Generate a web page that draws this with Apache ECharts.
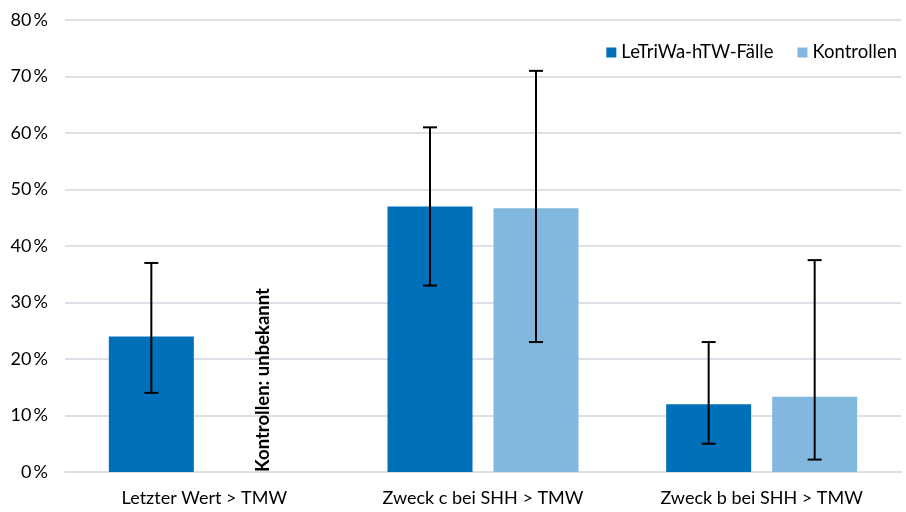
<!DOCTYPE html>
<html><head><meta charset="utf-8">
<script src="https://cdn.jsdelivr.net/npm/echarts@6/dist/echarts.min.js"></script>
<style>html,body{margin:0;padding:0;background:#fff}#c{width:906px;height:512px}</style>
</head><body><div id="c"></div>
<script>
var categories = ['Letzter Wert > TMW', 'Zweck c bei SHH > TMW', 'Zweck b bei SHH > TMW'];
var faelle = [24, 47, 12];
var faelleLow = [14, 33, 5];
var faelleHigh = [37, 61, 23];
var kontrollen = [0, 46.7, 13.3];
var kontrollenLow = [null, 23, 2.2];
var kontrollenHigh = [null, 71, 37.5];
var yTicks = [0, 10, 20, 30, 40, 50, 60, 70, 80];
var noteText = 'Kontrollen: unbekannt';

var FONT = 'Lato';
var BAR_W = 85;
var GAP_PX = 21;

function errData(low, high) {
  var out = [];
  for (var i = 0; i < categories.length; i++) {
    if (low[i] != null) out.push([i, low[i], high[i]]);
  }
  return out;
}
function errSeries(name, low, high, dir) {
  return {
    type: 'custom', name: name + '_err', z: 10, silent: true,
    data: errData(low, high),
    encode: { x: 0, y: [1, 2] },
    renderItem: function (params, api) {
      var off = dir * (BAR_W / 2 + GAP_PX / 2);
      var lo = api.coord([api.value(0), api.value(1)]);
      var hi = api.coord([api.value(0), api.value(2)]);
      var x = lo[0] + off;
      var cap = 7;
      var st = { stroke: '#000', lineWidth: 2 };
      return { type: 'group', children: [
        { type: 'line', shape: { x1: x, y1: lo[1], x2: x, y2: hi[1] }, style: st },
        { type: 'line', shape: { x1: x - cap, y1: lo[1], x2: x + cap, y2: lo[1] }, style: st },
        { type: 'line', shape: { x1: x - cap, y1: hi[1], x2: x + cap, y2: hi[1] }, style: st }
      ]};
    }
  };
}

var kData = kontrollen.map(function (v, i) {
  if (kontrollenLow[i] == null) {
    return { value: v, label: { show: true, formatter: noteText, position: 'top', rotate: 90,
      align: 'left', verticalAlign: 'middle', distance: 2, offset: [-2, 6], fontFamily: FONT, fontWeight: 'bold',
      fontSize: 18.5, color: '#000' } };
  }
  return v;
});

var chart = echarts.init(document.getElementById('c'));
chart.setOption({
  animation: false,
  textStyle: { fontFamily: FONT },
  grid: { left: 65, right: 5, top: 20, bottom: 40, containLabel: false },
  legend: {
    data: ['LeTriWa-hTW-Fälle', 'Kontrollen'], right: 4, top: 38,
    itemWidth: 10, itemHeight: 10, itemGap: 24, icon: 'rect',
    textStyle: { fontFamily: FONT, fontSize: 18.5, color: '#000' }
  },
  xAxis: {
    type: 'category', data: categories,
    axisLine: { show: true, lineStyle: { color: '#dde1e7', width: 2 } },
    axisTick: { show: false },
    axisLabel: { fontFamily: FONT, fontSize: 18, color: '#000', margin: 17 }
  },
  yAxis: {
    type: 'value', min: yTicks[0], max: yTicks[yTicks.length - 1], interval: 10,
    axisLine: { show: false }, axisTick: { show: false },
    splitLine: { lineStyle: { color: '#dde1e7', width: 2 } },
    axisLabel: { fontFamily: FONT, fontSize: 18, color: '#000', margin: 17,
      formatter: function (v) { return v + '\u2009%'; } }
  },
  series: [
    { name: 'LeTriWa-hTW-Fälle', type: 'bar', data: faelle, barWidth: BAR_W,
      barGap: (GAP_PX / BAR_W * 100) + '%', itemStyle: { color: '#0070b9' } },
    { name: 'Kontrollen', type: 'bar', data: kData, barWidth: BAR_W,
      itemStyle: { color: '#82b8dd' } },
    errSeries('f', faelleLow, faelleHigh, -1),
    errSeries('k', kontrollenLow, kontrollenHigh, 1)
  ]
});
</script></body></html>
